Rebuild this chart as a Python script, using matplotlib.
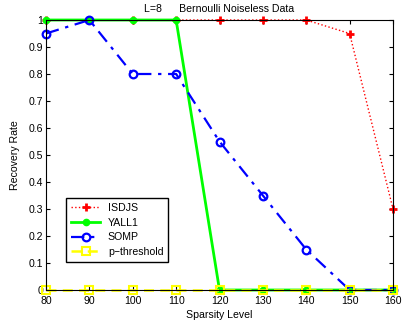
import matplotlib
matplotlib.use('Agg')
import matplotlib.pyplot as plt
import numpy as np

plt.rcParams['font.family'] = ['Liberation Sans', 'DejaVu Sans']

sparsity = [80, 90, 100, 110, 120, 130, 140, 150, 160]
isdjs = [1, 1, 1, 1, 1, 1, 1, 0.95, 0.3]
yall1 = [1, 1, 1, 1, 0, 0, 0, 0, 0]
somp = [0.95, 1, 0.8, 0.8, 0.55, 0.35, 0.15, 0, 0]
pthresh = [0, 0, 0, 0, 0, 0, 0, 0, 0]

fs = 7.6

fig = plt.figure(figsize=(4.05, 3.24), dpi=100)
ax = fig.add_axes([46/405, 34/324, 347/405, 270/324])

ax.plot(sparsity, isdjs, color='red', linestyle=':', linewidth=1,
        marker='+', markersize=6, markeredgewidth=2, label='ISDJS', clip_on=False)
ax.plot(sparsity, yall1, color='#00ff00', linestyle='-', linewidth=2,
        marker='o', markersize=4.5, label='YALL1', clip_on=False)
ax.plot(sparsity, somp, color='blue', linestyle=(0, (6, 3, 1.5, 3)), linewidth=1.6,
        marker='o', markersize=5.5, markerfacecolor='none', markeredgewidth=1.6,
        label='SOMP', clip_on=False)
ax.plot(sparsity, pthresh, color='yellow', linestyle=(0, (4, 2.5)), linewidth=1.8,
        marker='s', markersize=5.5, markerfacecolor='none', markeredgewidth=1.5,
        label='p\u2212threshold', clip_on=False)

ax.set_xlim(80, 160)
ax.set_ylim(0, 1)
ax.set_xticks(sparsity)
yt = np.round(np.arange(0, 1.01, 0.1), 1)
ax.set_yticks(yt)
ax.set_yticklabels(['0'] + ['%.1f' % v for v in yt[1:-1]] + ['1'])
ax.tick_params(direction='in', top=True, right=True, labelsize=fs, length=3)
ax.tick_params(axis='x', pad=4)
ax.tick_params(axis='y', pad=2)
ax.set_xlabel('Sparsity Level', fontsize=fs, labelpad=3)
ax.set_ylabel('Recovery Rate', fontsize=fs, labelpad=6)
ax.set_title('L=8      Bernoulli Noiseless Data', fontsize=fs, pad=6)

leg = ax.legend(loc='lower left', bbox_to_anchor=(0.058, 0.104), fontsize=fs,
                fancybox=False, edgecolor='black', framealpha=1,
                borderaxespad=0, handlelength=2.8, labelspacing=0.45,
                borderpad=0.45, handletextpad=0.7)
leg.get_frame().set_linewidth(1)

fig.savefig('out.png', dpi=100)
